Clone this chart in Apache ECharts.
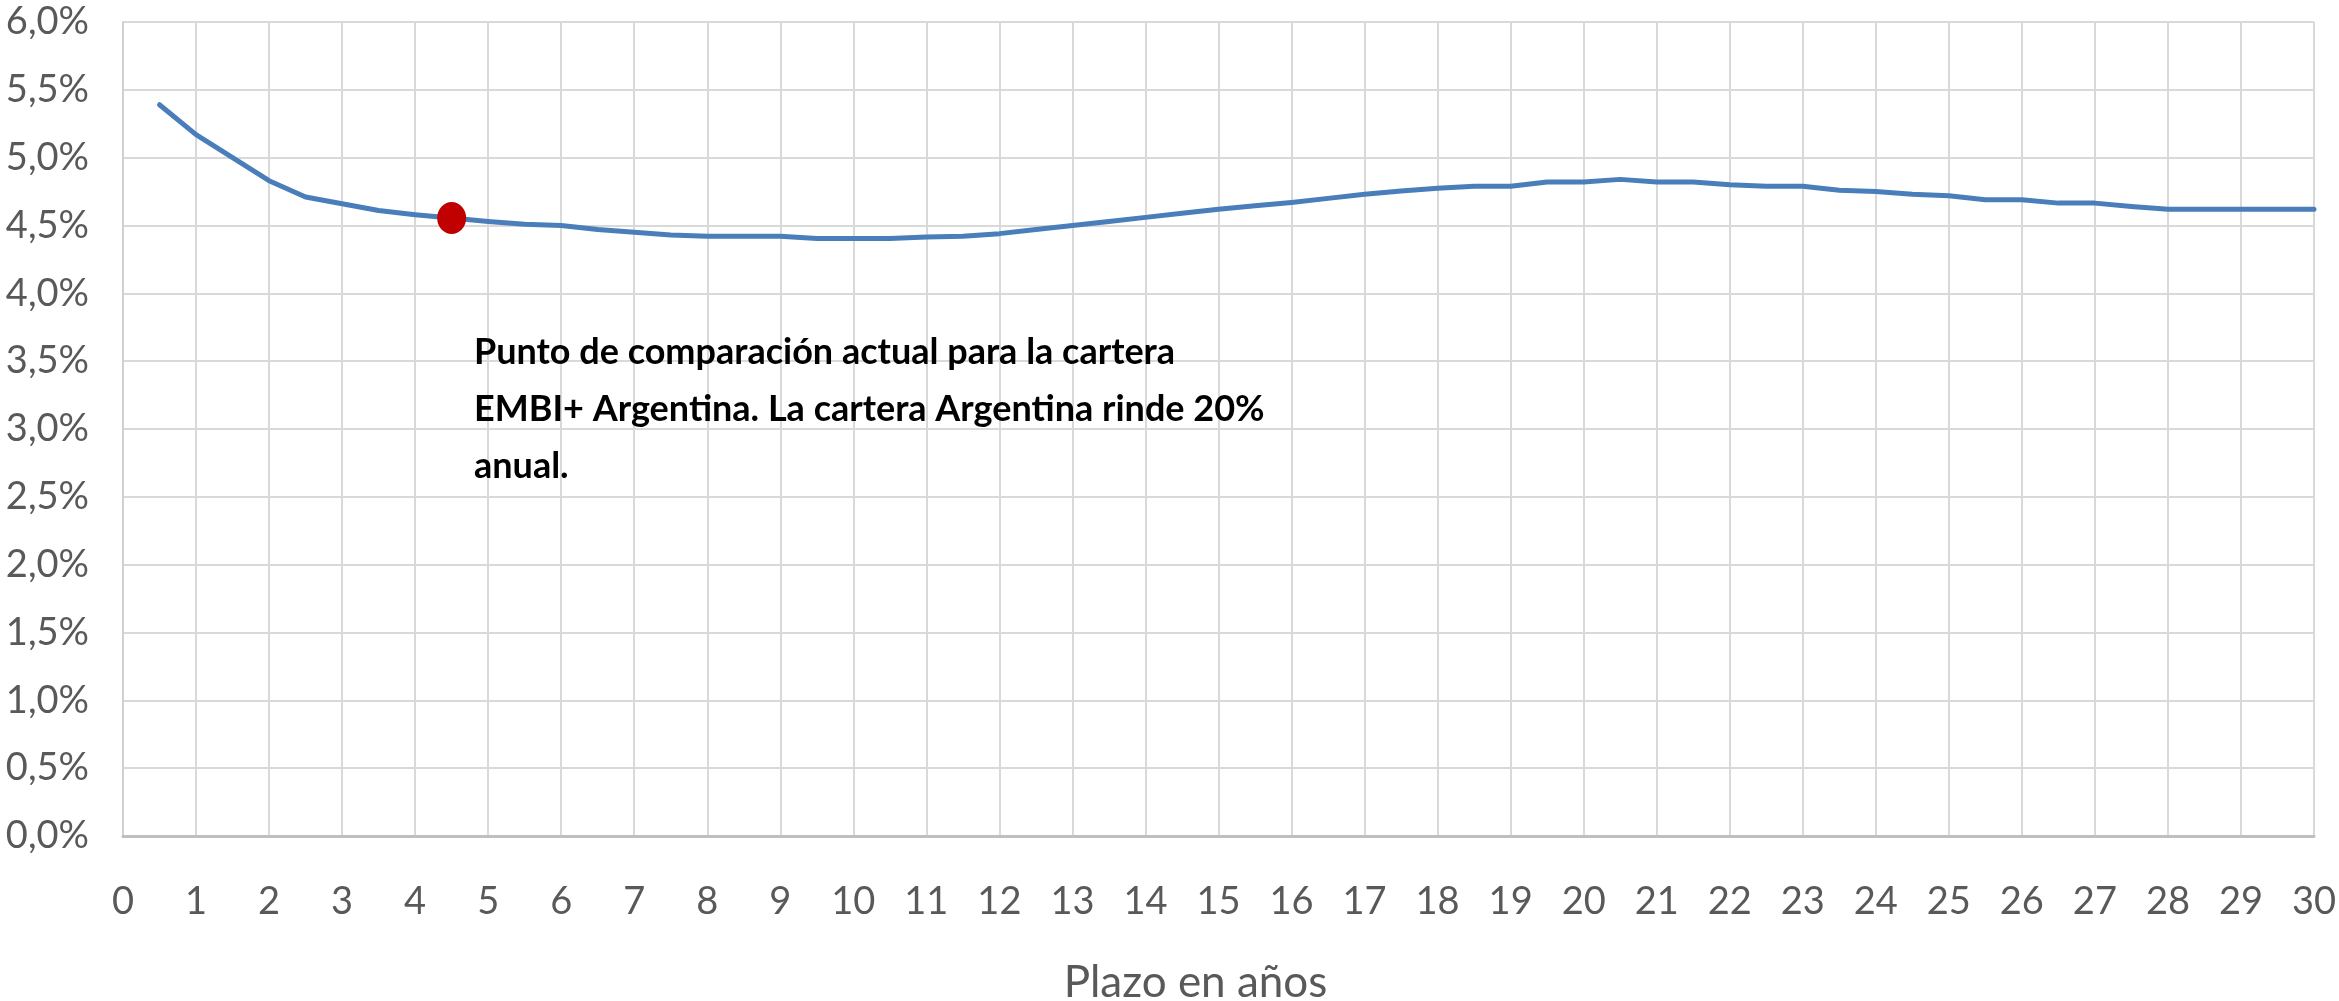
<!DOCTYPE html>
<html>
<head>
<meta charset="utf-8">
<script src="https://cdn.jsdelivr.net/npm/echarts@6/dist/echarts.min.js"></script>
<style>
  html, body { margin: 0; padding: 0; background: #ffffff; }
  #chart { width: 2339px; height: 1001px; }
</style>
</head>
<body>
<div id="chart"></div>
<script>
// Plazo (años) de la curva de rendimientos
const plazos = [
  0.5, 1, 1.5, 2, 2.5, 3, 3.5, 4, 4.5, 5,
  5.5, 6, 6.5, 7, 7.5, 8, 8.5, 9, 9.5, 10,
  10.5, 11, 11.5, 12, 12.5, 13, 13.5, 14, 14.5, 15,
  15.5, 16, 16.5, 17, 17.5, 18, 18.5, 19, 19.5, 20,
  20.5, 21, 21.5, 22, 22.5, 23, 23.5, 24, 24.5, 25,
  25.5, 26, 26.5, 27, 27.5, 28, 28.5, 29, 29.5, 30
];
// Rendimiento (%) para cada plazo
const rendimientos = [
  5.39, 5.17, 5.00, 4.83, 4.71, 4.66, 4.61, 4.58, 4.555, 4.53,
  4.51, 4.50, 4.47, 4.45, 4.43, 4.42, 4.42, 4.42, 4.405, 4.405,
  4.405, 4.415, 4.42, 4.44, 4.47, 4.50, 4.53, 4.56, 4.59, 4.62,
  4.645, 4.67, 4.70, 4.73, 4.755, 4.775, 4.79, 4.79, 4.82, 4.82,
  4.84, 4.82, 4.82, 4.80, 4.79, 4.79, 4.76, 4.75, 4.73, 4.72,
  4.69, 4.69, 4.665, 4.665, 4.64, 4.62, 4.62, 4.62, 4.62, 4.62
];
// Punto de comparación (plazo, rendimiento)
const puntoPlazo = 4.5;
const puntoRendimiento = 4.555;

const nota = [
  'Punto de comparación actual para la cartera',
  'EMBI+ Argentina. La cartera Argentina rinde 20%',
  'anual.'
];
const tituloEjeX = 'Plazo en años';

const curva = plazos.map((p, i) => [p, rendimientos[i]]);

const chart = echarts.init(document.getElementById('chart'), null, { renderer: 'canvas' });

const gris = '#595959';
chart.setOption({
  animation: false,
  backgroundColor: '#ffffff',
  grid: {
    left: 123, right: 25, top: 22, bottom: 165,
    containLabel: false,
    outerBoundsMode: 'none'
  },
  xAxis: {
    type: 'value',
    min: 0,
    max: 30,
    interval: 1,
    name: tituloEjeX,
    nameLocation: 'middle',
    nameGap: 125,
    nameTextStyle: { fontFamily: 'Lato', fontSize: 44, color: gris, padding: [0, 46, 0, 0] },
    axisLine: { show: true, onZero: false, lineStyle: { color: '#bfbfbf', width: 3 } },
    axisTick: { show: false },
    axisLabel: { fontFamily: 'Lato', fontSize: 38, color: gris, margin: 47 },
    splitLine: { show: true, lineStyle: { color: '#d9d9d9', width: 2 } }
  },
  yAxis: {
    type: 'value',
    min: 0,
    max: 6,
    interval: 0.5,
    axisLine: { show: true, lineStyle: { color: '#d0d0d0', width: 2 } },
    axisTick: { show: false },
    axisLabel: {
      fontFamily: 'Lato', fontSize: 38, color: gris, margin: 34,
      formatter: v => v.toFixed(1).replace('.', ',') + '%'
    },
    splitLine: { show: true, lineStyle: { color: '#d9d9d9', width: 2 } }
  },
  series: [
    {
      type: 'line',
      data: curva,
      showSymbol: false,
      lineStyle: { color: '#4A7EBB', width: 5, cap: 'round', join: 'round' },
      z: 2
    },
    {
      type: 'scatter',
      data: [[puntoPlazo, puntoRendimiento]],
      symbol: 'circle',
      symbolSize: [29, 32],
      itemStyle: { color: '#C00000', opacity: 1 },
      z: 3
    }
  ],
  graphic: [
    {
      type: 'text',
      left: 474,
      top: 324,
      style: {
        text: nota.join('\n'),
        fontFamily: 'Lato',
        fontWeight: 'bold',
        fontSize: 36,
        lineHeight: 57,
        fill: '#000000'
      },
      z: 10
    }
  ]
});
</script>
</body>
</html>
